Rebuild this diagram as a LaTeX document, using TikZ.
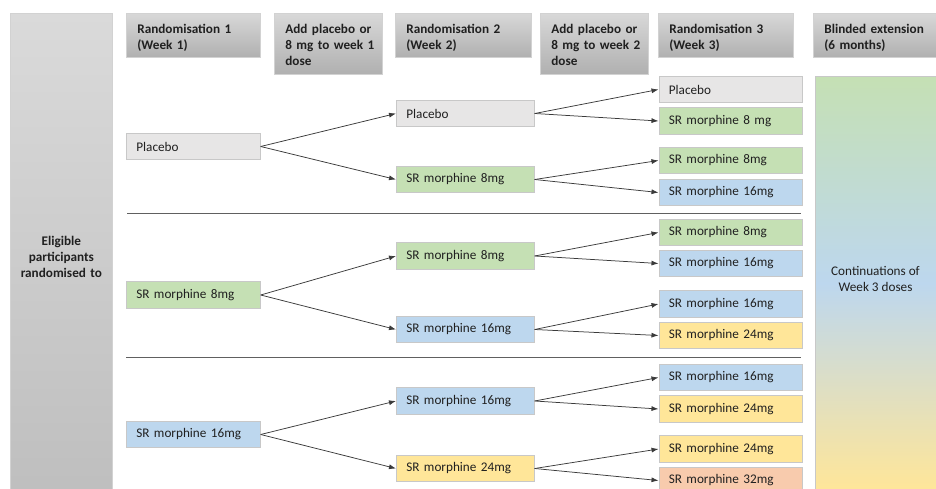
\documentclass[tikz,border=0pt]{standalone}
\usepackage{fontspec}
\setmainfont{Carlito}
\usetikzlibrary{arrows.meta}
\definecolor{pgray}{HTML}{E7E6E6}
\definecolor{mgreen}{HTML}{C5E0B4}
\definecolor{mblue}{HTML}{BDD7EE}
\definecolor{myellow}{HTML}{FFE699}
\definecolor{morange}{HTML}{F8CBAD}
\definecolor{edgec}{HTML}{C8C8C8}
\definecolor{hdedge}{HTML}{D2D2D2}
\definecolor{hdtop}{HTML}{D8D8D8}
\definecolor{hdbot}{HTML}{B0B0B0}
\definecolor{lbtop}{HTML}{DADADA}
\definecolor{lbbot}{HTML}{BEBEBE}
\definecolor{txt}{HTML}{202020}
\definecolor{arr}{HTML}{3A3A3A}
\definecolor{sepc}{HTML}{606060}
\newcommand{\hstrut}{\rule{0pt}{15pt}}
\newcommand{\hstrutb}{\rule{0pt}{12pt}}
\begin{document}
\begin{tikzpicture}[x=1pt,y=-1pt,
  every node/.style={font=\fontsize{13.2}{16}\selectfont, text=txt},
  dose/.style={draw=edgec, line width=0.7pt, minimum height=26.5pt, inner xsep=10pt, inner ysep=0pt, anchor=west, align=left},
  colA/.style={dose, text width=114pt},
  colB/.style={dose, text width=118pt},
  colC/.style={dose, text width=123pt},
  hdr/.style={draw=hdedge, line width=0.7pt, top color=hdtop, bottom color=hdbot, anchor=north west, inner xsep=11pt, inner ysep=0pt, align=left, font=\fontsize{13.2}{16}\selectfont\bfseries},
  link/.style={draw=arr, line width=0.75pt, -{Latex[length=7pt,width=5pt]}},
  sepline/.style={draw=sepc, line width=1pt}
]
\useasboundingbox (0,0) rectangle (936,489);

% left box
\node[draw=hdedge, line width=0.7pt, top color=lbtop, bottom color=lbbot, anchor=north west, minimum width=102pt, minimum height=488pt, inner sep=0pt, text width=96pt, align=center, font=\fontsize{13.2}{16}\selectfont\bfseries] (elig) at (10,13) {Eligible\\participants\\randomised to};

% headers
\node[hdr, text width=112pt, minimum height=44pt] (h1) at (126,13) {\hstrut Randomisation 1\\(Week 1)};
\node[hdr, text width=86pt, minimum height=61pt] (h2) at (274,13) {\hstrutb\mbox{Add placebo or}\\\mbox{8 mg to week 1}\\dose};
\node[hdr, text width=114pt, minimum height=44pt] (h3) at (395,13) {\hstrut Randomisation 2\\(Week 2)};
\node[hdr, text width=86pt, minimum height=61pt] (h4) at (540,13) {\hstrutb\mbox{Add placebo or}\\\mbox{8 mg to week 2}\\dose};
\node[hdr, text width=113pt, minimum height=44pt] (h5) at (658,13) {\hstrut Randomisation 3\\(Week 3)};
\node[hdr, text width=103pt, minimum height=44pt] (h6) at (813,13) {\hstrut Blinded extension\\(6 months)};

% blinded extension box
\node[draw=edgec, line width=0.7pt, top color=mgreen, bottom color=myellow, middle color=mblue, anchor=north west, minimum width=124pt, minimum height=414pt, inner sep=0pt] (ext) at (815,76) {};
\node[align=center] (exttxt) at (875.5,278.5) {Continuations of\\Week 3 doses};

% separators
\draw[sepline] (127,213) -- (801,213);
\draw[sepline] (126,357) -- (801,357);

% column 1
\node[colA, fill=pgray] (a1) at (126,146.5) {Placebo};
\node[colA, fill=mgreen] (a2) at (126,295) {SR morphine 8mg};
\node[colA, fill=mblue] (a3) at (126,434.5) {SR morphine 16mg};

% column 2
\node[colB, fill=pgray] (b1) at (396,113.5) {Placebo};
\node[colB, fill=mgreen] (b2) at (396,179.5) {SR morphine 8mg};
\node[colB, fill=mgreen] (b3) at (396,256) {SR morphine 8mg};
\node[colB, fill=mblue] (b4) at (396,329.5) {SR morphine 16mg};
\node[colB, fill=mblue] (b5) at (396,401) {SR morphine 16mg};
\node[colB, fill=myellow] (b6) at (396,468.5) {SR morphine 24mg};

% column 3
\node[colC, fill=pgray] (c1) at (658.5,89.5) {Placebo};
\node[colC, fill=mgreen] (c2) at (658.5,121) {SR morphine 8 mg};
\node[colC, fill=mgreen] (c3) at (658.5,160.5) {SR morphine 8mg};
\node[colC, fill=mblue] (c4) at (658.5,192.5) {SR morphine 16mg};
\node[colC, fill=mgreen] (c5) at (658.5,232.5) {SR morphine 8mg};
\node[colC, fill=mblue] (c6) at (658.5,263.5) {SR morphine 16mg};
\node[colC, fill=mblue] (c7) at (658.5,304) {SR morphine 16mg};
\node[colC, fill=myellow] (c8) at (658.5,335.5) {SR morphine 24mg};
\node[colC, fill=mblue] (c9) at (658.5,377.5) {SR morphine 16mg};
\node[colC, fill=myellow] (c10) at (658.5,409) {SR morphine 24mg};
\node[colC, fill=myellow] (c11) at (658.5,449) {SR morphine 24mg};
\node[colC, fill=morange] (c12) at (658.5,480.5) {SR morphine 32mg};

% arrows
\draw[link] (a1.east) -- (b1.west);
\draw[link] (a1.east) -- (b2.west);
\draw[link] (a2.east) -- (b3.west);
\draw[link] (a2.east) -- (b4.west);
\draw[link] (a3.east) -- (b5.west);
\draw[link] (a3.east) -- (b6.west);
\draw[link] (b1.east) -- (c1.west);
\draw[link] (b1.east) -- (c2.west);
\draw[link] (b2.east) -- (c3.west);
\draw[link] (b2.east) -- (c4.west);
\draw[link] (b3.east) -- (c5.west);
\draw[link] (b3.east) -- (c6.west);
\draw[link] (b4.east) -- (c7.west);
\draw[link] (b4.east) -- (c8.west);
\draw[link] (b5.east) -- (c9.west);
\draw[link] (b5.east) -- (c10.west);
\draw[link] (b6.east) -- (c11.west);
\draw[link] (b6.east) -- (c12.west);
\end{tikzpicture}
\end{document}
